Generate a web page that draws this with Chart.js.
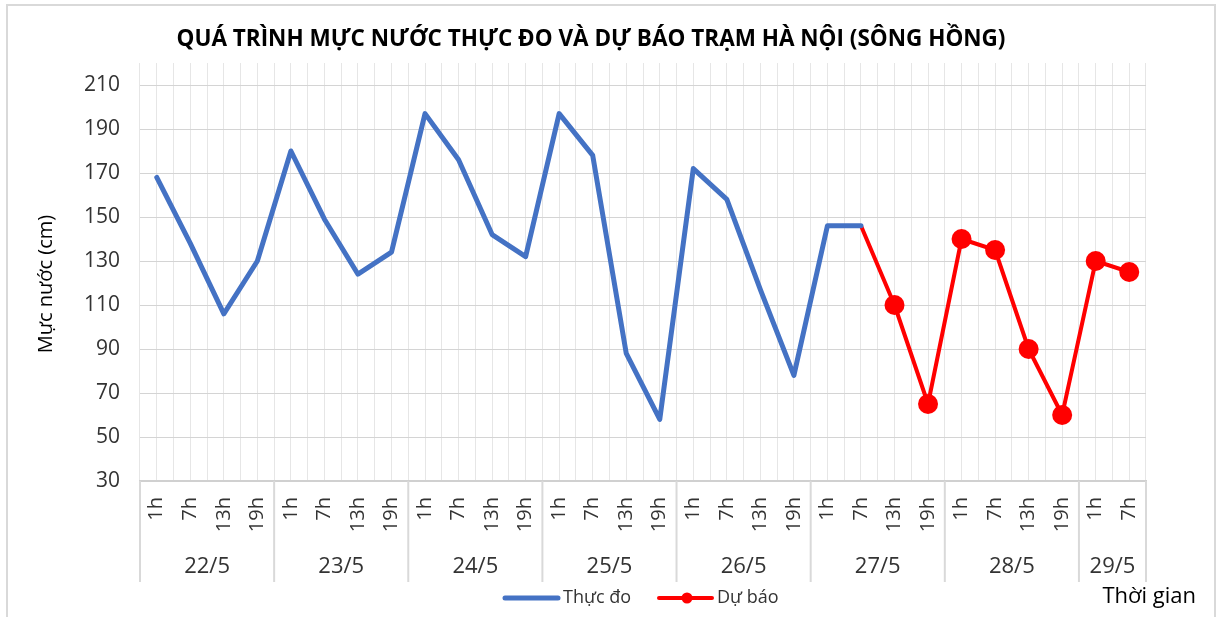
<!DOCTYPE html>
<html>
<head>
<meta charset="utf-8">
<script src="https://cdn.jsdelivr.net/npm/chart.js@4.4.1/dist/chart.umd.min.js"></script>
<style>
  html, body { margin: 0; padding: 0; background: #fff; }
  #wrap { position: relative; width: 1217px; height: 617px; }
</style>
</head>
<body>
<div id="wrap"><canvas id="mucNuocChart"></canvas></div>
<script>
// ngày và giờ quan trắc
const ngay = ['22/5', '23/5', '24/5', '25/5', '26/5', '27/5', '28/5', '29/5'];
const gio = ['1h', '7h', '13h', '19h'];
const soGioMoiNgay = [4, 4, 4, 4, 4, 4, 4, 2];

// mực nước (cm)
const thucDo = [168, 138, 106, 130, 180, 149, 124, 134, 197, 176, 142, 132,
                197, 178, 88, 58, 172, 158, 117, 78, 146, 146,
                null, null, null, null, null, null, null, null];
const duBao = [null, null, null, null, null, null, null, null, null, null, null, null,
               null, null, null, null, null, null, null, null, null,
               146, 110, 65, 140, 135, 90, 60, 130, 125];
const yTicks = [30, 50, 70, 90, 110, 130, 150, 170, 190, 210];

const FONT = "'Open Sans', 'Noto Sans', sans-serif";
const XAM = '#333333';

let labels = [];
soGioMoiNgay.forEach((n) => {
    for (let k = 0; k < n; k++) {
        labels.push(gio[k]);
    }
});

const khungPlugin = {
    id: 'khung',
    beforeDraw(chart) {
        const ctx = chart.ctx;
        ctx.save();
        ctx.fillStyle = '#fff';
        ctx.fillRect(0, 0, chart.width, chart.height);
        ctx.strokeStyle = '#d9d9d9';
        ctx.lineWidth = 2;
        ctx.strokeRect(7, 5, chart.width - 9, chart.height + 10);
        ctx.restore();
    }
};

// hàng nhãn ngày bên dưới trục giờ, chú giải và tên các trục
const ngayPlugin = {
    id: 'hangNgay',
    afterDraw(chart) {
        const x = chart.scales.x;
        const y = chart.scales.y;
        const ctx = chart.ctx;
        const w = x.getPixelForValue(1) - x.getPixelForValue(0);
        ctx.save();
        ctx.strokeStyle = '#d9d9d9';
        ctx.lineWidth = 2;
        ctx.fillStyle = XAM;
        ctx.font = '22px ' + FONT;
        ctx.textAlign = 'center';
        ctx.textBaseline = 'middle';
        let start = 0;
        ngay.forEach((d, i) => {
            const end = start + soGioMoiNgay[i] - 1;
            const left = x.getPixelForValue(start) - w / 2;
            ctx.beginPath();
            ctx.moveTo(left, x.top);
            ctx.lineTo(left, x.bottom);
            ctx.stroke();
            const cx = (x.getPixelForValue(start) + x.getPixelForValue(end)) / 2;
            ctx.fillText(d, cx, x.bottom - 15);
            start = end + 1;
        });
        const right = x.getPixelForValue(labels.length - 1) + w / 2;
        ctx.beginPath();
        ctx.moveTo(right, x.top);
        ctx.lineTo(right, x.bottom);
        ctx.stroke();

        // chú giải
        const ly = x.bottom + 16;
        ctx.lineCap = 'round';
        ctx.textAlign = 'left';
        ctx.font = '18px ' + FONT;
        chart.data.datasets.forEach((ds, i) => {
            const lx = i === 0 ? 505 : 659;
            ctx.strokeStyle = ds.borderColor;
            ctx.lineWidth = ds.borderWidth;
            ctx.beginPath();
            ctx.moveTo(lx, ly);
            ctx.lineTo(lx + 53, ly);
            ctx.stroke();
            if (i === 1) {
                ctx.fillStyle = ds.borderColor;
                ctx.beginPath();
                ctx.arc(lx + 28, ly, 5.5, 0, Math.PI * 2);
                ctx.fill();
            }
            ctx.fillStyle = XAM;
            ctx.fillText(ds.label, lx + 58, ly);
        });

        // tên trục hoành
        ctx.fillStyle = '#000';
        ctx.font = '22px ' + FONT;
        ctx.textAlign = 'right';
        ctx.fillText('Thời gian', 1196, ly - 1);

        // tên trục tung
        ctx.translate(46, (y.top + y.bottom) / 2 + 12);
        ctx.rotate(-Math.PI / 2);
        ctx.textAlign = 'center';
        ctx.font = '20px ' + FONT;
        ctx.fillText('Mực nước (cm)', 0, 0);
        ctx.restore();
    }
};

const ctx = document.getElementById('mucNuocChart').getContext('2d');
const mucNuocChart = new Chart(ctx, {
    type: 'line',
    data: {
        labels: labels,
        datasets: [{
            label: 'Thực đo',
            data: thucDo,
            borderColor: '#4472C4',
            backgroundColor: '#4472C4',
            borderWidth: 5,
            pointRadius: 0,
            borderJoinStyle: 'round',
            borderCapStyle: 'round'
        }, {
            label: 'Dự báo',
            data: duBao,
            borderColor: '#FF0000',
            backgroundColor: '#FF0000',
            borderWidth: 4,
            pointRadius: duBao.map((v, i) => i === 21 ? 0 : 10),
            pointBorderWidth: 0,
            pointBackgroundColor: '#FF0000',
            borderJoinStyle: 'round'
        }]
    },
    options: {
        responsive: true,
        maintainAspectRatio: false,
        animation: false,
        devicePixelRatio: 1,
        layout: {
            padding: { left: 36, right: 71, top: 0, bottom: 35 }
        },
        plugins: {
            title: {
                display: true,
                text: 'QUÁ TRÌNH MỰC NƯỚC THỰC ĐO VÀ DỰ BÁO TRẠM HÀ NỘI (SÔNG HỒNG)',
                color: '#000',
                font: { family: FONT, size: 22.5, weight: 'bold' },
                padding: { top: 26.5, bottom: 9.5 }
            },
            legend: { display: false },
            tooltip: { enabled: false }
        },
        scales: {
            x: {
                type: 'category',
                offset: true,
                grid: { offset: true, color: '#e6e6e6', drawTicks: false },
                border: { color: '#d0d0d0', width: 2 },
                ticks: {
                    autoSkip: false,
                    minRotation: 90,
                    maxRotation: 90,
                    color: XAM,
                    font: { family: FONT, size: 20 },
                    padding: 16
                },
                afterFit: function (scale) {
                    scale.height = 101;
                }
            },
            x2: {
                type: 'category',
                labels: labels,
                position: 'bottom',
                offset: true,
                grid: { offset: false, color: '#e6e6e6', drawTicks: false },
                border: { display: false },
                ticks: { display: false },
                afterFit: function (scale) {
                    scale.height = 0;
                }
            },
            y: {
                min: 30,
                max: 220,
                ticks: {
                    stepSize: 20,
                    color: XAM,
                    font: { family: FONT, size: 21 },
                    padding: 20
                },
                afterBuildTicks: function (scale) {
                    scale.ticks = yTicks.map(v => ({ value: v }));
                },
                grid: { color: '#d4d4d4', drawTicks: false },
                border: { display: false },
                afterFit: function (scale) {
                    scale.width = 104;
                }
            }
        }
    },
    plugins: [khungPlugin, ngayPlugin]
});
</script>
</body>
</html>
